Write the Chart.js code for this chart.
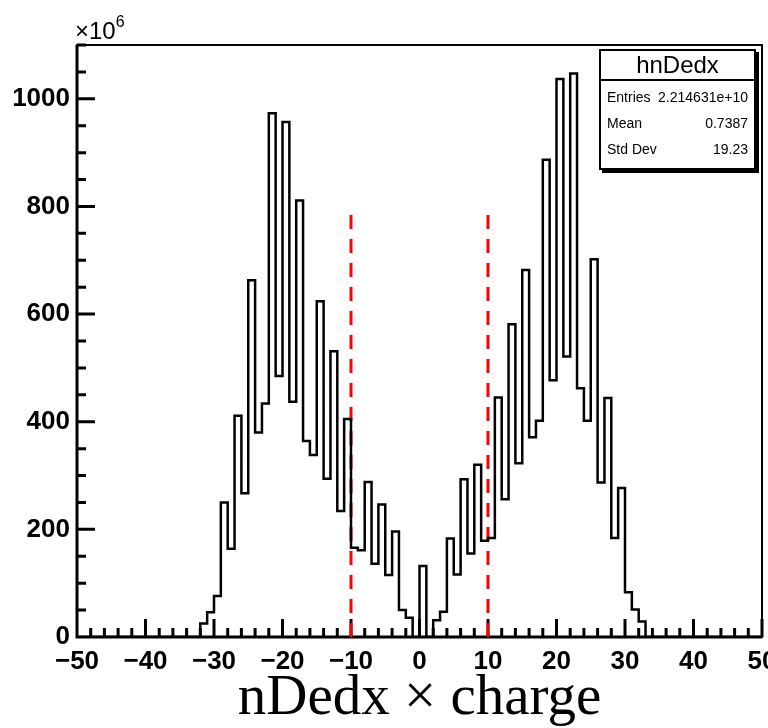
<!DOCTYPE html>
<html>
<head>
<meta charset="utf-8">
<script src="https://cdn.jsdelivr.net/npm/chart.js@4.4.1/dist/chart.umd.min.js"></script>
<style>
    body { margin: 0; background: #fff; }
    #wrap { position: relative; width: 768px; height: 728px; }
    #power { position: absolute; left: 75px; top: 16px; font: 24px "Liberation Sans", Arial, sans-serif; }
    #power sup { font-size: 16px; position: relative; top: -3px; }
    #stats {
        position: absolute; left: 599px; top: 49px; width: 153px; height: 117px;
        border: 2px solid #000; box-shadow: 3px 3px 0 #000; background: #fff;
        font: 14px "Liberation Sans", Arial, sans-serif;
    }
    #stats .title { height: 28px; border-bottom: 2px solid #000; text-align: center; font-size: 24px; line-height: 28px; }
    #stats .row { display: flex; justify-content: space-between; padding: 0 6px 0 6px; height: 26px; line-height: 26px; }
</style>
</head>
<body>
<div id="wrap">
    <canvas id="histo" width="768" height="728"></canvas>
    <div id="power">×10<sup>6</sup></div>
    <div id="stats">
        <div class="title">hnDedx</div>
        <div class="row" style="margin-top:3px"><span>Entries</span><span>2.214631e+10</span></div>
        <div class="row"><span>Mean</span><span>0.7387</span></div>
        <div class="row"><span>Std Dev</span><span>19.23</span></div>
    </div>
</div>
<script>
// histogram range, 1 unit per bin
const xMin = -50;
const xMax = 50;
const yMax = 1100;

// bin contents (x10^6) for bins starting at firstBin, all others are empty
const firstBin = -32;
const counts = [
    25, 46, 76, 250, 164, 411, 267, 663, 380, 434,
    973, 485, 957, 437, 811, 364, 338, 624, 294, 531,
    234, 405, 166, 161, 288, 136, 246, 115, 196, 50,
    36, 0, 132, 0, 31, 47, 183, 116, 293, 155,
    320, 179, 184, 445, 256, 581, 323, 682, 371, 402,
    887, 477, 1037, 521, 1047, 462, 402, 702, 287, 444,
    184, 277, 83, 51, 29
];

// red dashed cut lines
const cutValues = [-10, 10];
const cutHeight = 800;

// one point per lower bin edge; stepped 'before' holds each value
// until the next edge
const histPoints = [];
for (let x = xMin; x < xMax; x++) {
    const v = counts[x - firstBin];
    histPoints.push({ x: x, y: v === undefined ? 0 : v });
}
histPoints.push({ x: xMax, y: 0 });

const cutSets = cutValues.map(function (c) {
    return {
        data: [{ x: c, y: 0 }, { x: c, y: cutHeight }],
        borderColor: '#ff0000',
        borderWidth: 3,
        borderDash: [14, 10],
        pointRadius: 0,
        showLine: true
    };
});

// ROOT style frame with inward ticks
const rootAxes = {
    id: 'rootAxes',
    beforeDatasetsDraw(chart) {
        const { ctx, chartArea: a, scales: { x, y } } = chart;
        ctx.save();
        ctx.strokeStyle = '#000';
        ctx.lineWidth = 2;
        ctx.strokeRect(a.left, a.top, a.right - a.left, a.bottom - a.top);
        ctx.lineWidth = 3;
        ctx.beginPath();
        ctx.moveTo(a.left, a.top);
        ctx.lineTo(a.left, a.bottom);
        ctx.lineTo(a.right, a.bottom);
        for (let v = xMin; v <= xMax; v += 2) {
            const px = x.getPixelForValue(v);
            const len = v % 10 === 0 ? 18 : 9;
            ctx.moveTo(px, a.bottom);
            ctx.lineTo(px, a.bottom - len);
        }
        for (let v = 0; v <= yMax; v += 50) {
            const py = y.getPixelForValue(v);
            const len = v % 200 === 0 ? 18 : 9;
            ctx.moveTo(a.left, py);
            ctx.lineTo(a.left + len, py);
        }
        ctx.stroke();
        ctx.restore();
    }
};

const labelFont = { family: '"Liberation Sans", Arial, sans-serif', size: 26, weight: 'bold' };

new Chart(document.getElementById('histo').getContext('2d'), {
    type: 'scatter',
    data: {
        datasets: [{
            data: histPoints,
            borderColor: '#000',
            borderWidth: 2.5,
            pointRadius: 0,
            showLine: true,
            stepped: 'before'
        }].concat(cutSets)
    },
    options: {
        responsive: false,
        animation: false,
        layout: { autoPadding: false, padding: { left: 0, right: 6, top: 45, bottom: 0 } },
        plugins: { legend: { display: false }, tooltip: { enabled: false } },
        scales: {
            x: {
                type: 'linear', min: xMin, max: xMax,
                grid: { display: false }, border: { display: false },
                ticks: {
                    stepSize: 10, padding: 1, color: '#000', font: labelFont, maxRotation: 0,
                    callback: function (v) { return v < 0 ? '\u2212' + Math.abs(v) : String(v); }
                },
                title: {
                    display: true, text: 'nDedx \u00d7 charge', color: '#000',
                    font: { family: '"Liberation Serif", "Times New Roman", serif', size: 57, lineHeight: 1 },
                    padding: { top: 0, bottom: 0 }
                },
                afterFit: function (s) { s.height = 91; s.paddingLeft = 0; s.paddingRight = 0; }
            },
            y: {
                min: 0, max: yMax,
                grid: { display: false }, border: { display: false },
                ticks: {
                    stepSize: 200, includeBounds: false, padding: -1, color: '#000', font: labelFont,
                    callback: function (v) { return String(v); }
                },
                afterFit: function (s) { s.width = 77; s.paddingTop = 0; s.paddingBottom = 0; }
            }
        }
    },
    plugins: [rootAxes]
});
</script>
</body>
</html>
